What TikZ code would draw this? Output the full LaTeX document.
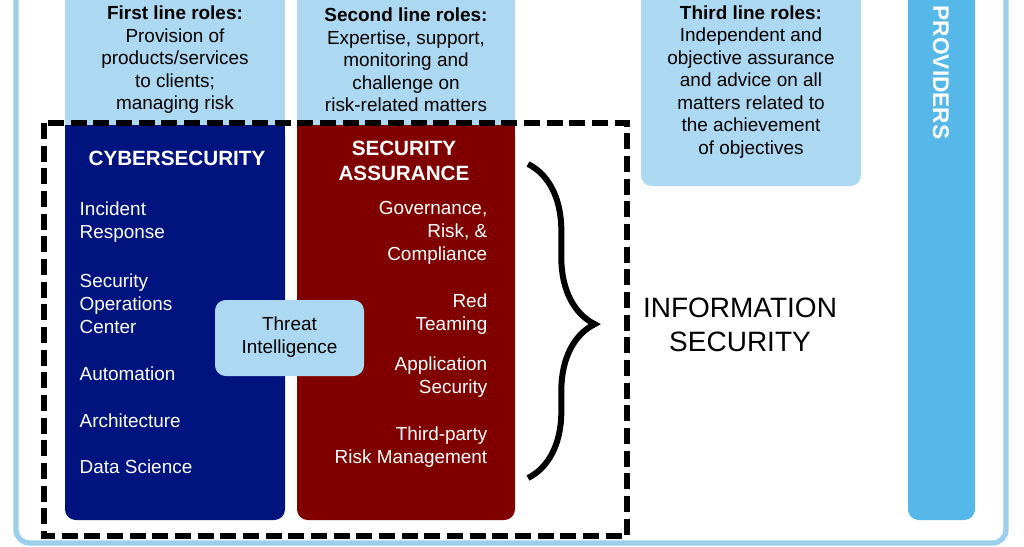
\documentclass[tikz,border=0pt]{standalone}
\usepackage{fontspec}
\setmainfont{Liberation Sans}
\usetikzlibrary{decorations.pathreplacing}
\definecolor{lb}{HTML}{ADD8F2}
\definecolor{frame}{HTML}{9CCFEC}
\definecolor{prov}{HTML}{55B8E8}
\definecolor{navy}{HTML}{00137F}
\definecolor{maroon}{HTML}{800000}
\begin{document}
\begin{tikzpicture}[x=0.75pt,y=-0.75pt,
  lbox/.style={fill=lb,draw=none,rounded corners=6pt},
  txt/.style={font=\fontsize{14.2}{16.9}\selectfont,align=center,text=black},
  wt/.style={font=\fontsize{14.2}{17.3}\selectfont,text=white},
  ttl/.style={font=\bfseries\fontsize{15.5}{19}\selectfont,text=white,align=center}]
\useasboundingbox (0,0) rectangle (1024,546);
\clip (0,0) rectangle (1024,546);
\draw[frame,line width=4pt,rounded corners=10pt] (16,-30) rectangle (1006,543);
% light columns
\fill[lb] (65,-20) rectangle (285,140);
\fill[lb] (297,-20) rectangle (515,140);
\fill[lb,rounded corners=8pt] (641,-20) rectangle (861,186);
\fill[prov,rounded corners=8pt] (908,-20) rectangle (975,520);
\node[rotate=-90,font=\bfseries\fontsize{17}{19}\selectfont,text=white,anchor=east] (prov) at (941,144) {PROVIDERS};
\node[txt] (l1) at (175,60) {\textbf{First line roles:}\\Provision of\\products/services\\to clients;\\managing risk};
\node[txt] (l2) at (406,60) {\textbf{Second line roles:}\\Expertise, support,\\monitoring and\\challenge on\\risk-related matters};
\node[txt] (l3) at (751,82) {\textbf{Third line roles:}\\Independent and\\objective assurance\\and advice on all\\matters related to\\the achievement\\of objectives};
% main boxes
\fill[navy,rounded corners=8pt] (65,125) rectangle (285,520);
\fill[navy] (65,125) rectangle (285,140);
\fill[maroon,rounded corners=8pt] (297,125) rectangle (515,520);
\fill[maroon] (297,125) rectangle (515,140);
\draw[line width=3.8pt,dash pattern=on 12pt off 5pt] (44,123) rectangle (627,536);
\node[ttl] (cyb) at (177,158) {CYBERSECURITY};
\node[ttl] (sa) at (404,161) {SECURITY\\ASSURANCE};
\begin{scope}[every node/.style={wt,align=left,anchor=west}]
\node (c1) at (75,222) {Incident\\Response};
\node (c2) at (75,304) {Security\\Operations\\Center};
\node (c3) at (75,374) {Automation};
\node (c4) at (75,421) {Architecture};
\node (c5) at (75,467) {Data Science};
\end{scope}
\begin{scope}[every node/.style={wt,align=right,anchor=east}]
\node (s1) at (492,233) {Governance,\\Risk, \&\\Compliance};
\node (s2) at (492,314) {Red\\Teaming};
\node (s3) at (492,377) {Application\\Security};
\node (s4) at (492,447) {Third-party\\Risk Management};
\end{scope}
\fill[lb,rounded corners=8pt] (215,300) rectangle (364,376);
\node[txt] (ti) at (289.5,337) {Threat\\Intelligence};
\draw[decorate,decoration={brace,amplitude=50pt,aspect=0.51},line width=4.5pt] (528,164) -- (528,478);
\node[font=\fontsize{21}{26}\selectfont,align=center] (is) at (740,325) {INFORMATION\\SECURITY};
\end{tikzpicture}
\end{document}
